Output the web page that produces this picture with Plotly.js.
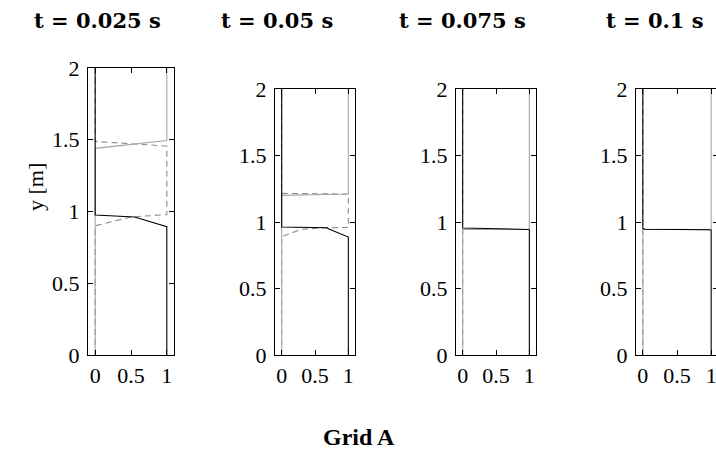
<!DOCTYPE html>
<html>
<head>
<meta charset="utf-8">
<script src="https://cdn.plot.ly/plotly-3.0.1.min.js"></script>
<style>
  html, body { margin: 0; padding: 0; overflow: hidden; background: #fff; }
  #chart { width: 720px; height: 459px; }
</style>
</head>
<body>
<div id="chart"></div>
<script>
// Volume-fraction profiles (x = fraction, y = height in m) at four instants.
const times = ['0.025', '0.05', '0.075', '0.1'];

// t = 0.025 s
const heavyX1 = [1, 1, 0.55, 0, 0];
const heavyY1 = [0, 0.894, 0.962, 0.975, 2];
const midX1 = [0, 0, 0.5, 1, 1, 0, 0];
const midY1 = [0, 0.90, 0.962, 0.978, 1.456, 1.488, 2];
const lightX1 = [0, 0, 1, 1];
const lightY1 = [0, 1.44, 1.495, 2];

// t = 0.05 s
const heavyX2 = [1, 1, 0.71, 0.68, 0, 0];
const heavyY2 = [0, 0.887, 0.948, 0.957, 0.962, 2];
const midX2 = [0, 0, 0.3, 0.6, 1, 1, 0, 0];
const midY2 = [0, 0.89, 0.945, 0.955, 0.96, 1.21, 1.215, 2];
const lightX2 = [0, 0, 1, 1];
const lightY2 = [0, 1.20, 1.21, 2];

// t = 0.075 s
const heavyX3 = [1, 1, 0.97, 0.03, 0, 0];
const heavyY3 = [0, 0.942, 0.944, 0.950, 0.955, 2];
const midX3 = [0, 0];
const midY3 = [0, 2];
const lightX3 = [0, 0, 0.03, 0.97, 1, 1];
const lightY3 = [0, 0.940, 0.946, 0.944, 0.950, 2];

// t = 0.1 s
const heavyX4 = [1, 1, 0.97, 0.03, 0, 0];
const heavyY4 = [0, 0.940, 0.942, 0.946, 0.952, 2];
const midX4 = [0, 0];
const midY4 = [0, 2];
const lightX4 = [0, 0, 0.03, 0.97, 1, 1];
const lightY4 = [0, 0.940, 0.945, 0.943, 0.950, 2];

const xTicks = [0, 0.5, 1];
const xTickText = ['0', '0.5', '1'];
const yTicks = [0, 0.5, 1, 1.5, 2];
const yTickText = ['0', '0.5', '1', '1.5', '2'];

const profiles = [
  { heavy: [heavyX1, heavyY1], mid: [midX1, midY1], light: [lightX1, lightY1] },
  { heavy: [heavyX2, heavyY2], mid: [midX2, midY2], light: [lightX2, lightY2] },
  { heavy: [heavyX3, heavyY3], mid: [midX3, midY3], light: [lightX3, lightY3] },
  { heavy: [heavyX4, heavyY4], mid: [midX4, midY4], light: [lightX4, lightY4] }
];

const W = 720, H = 459;
// panel pixel boxes: [left, right, top, bottom]
const boxes = [
  [88, 174, 68, 355],
  [275, 355, 89, 355],
  [456, 536, 89, 355],
  [636, 718, 89, 355]
];
const titleCenters = [97, 277, 462, 655];

const serif = 'Liberation Serif, Times New Roman, serif';
const traces = [];
const layout = {
  width: W, height: H,
  margin: { l: 0, r: 0, t: 0, b: 0 },
  paper_bgcolor: '#fff', plot_bgcolor: '#fff',
  showlegend: false,
  annotations: []
};

profiles.forEach((p, i) => {
  const n = i + 1;
  const xa = 'x' + (n === 1 ? '' : n), ya = 'y' + (n === 1 ? '' : n);
  traces.push({ x: p.mid[0], y: p.mid[1], xaxis: xa, yaxis: ya, mode: 'lines',
    line: { color: '#8c8c8c', width: 1.1, dash: '6px,4px' }, hoverinfo: 'skip' });
  traces.push({ x: p.light[0], y: p.light[1], xaxis: xa, yaxis: ya, mode: 'lines',
    line: { color: '#a6a6a6', width: 1.1 }, hoverinfo: 'skip' });
  traces.push({ x: p.heavy[0], y: p.heavy[1], xaxis: xa, yaxis: ya, mode: 'lines',
    line: { color: '#000', width: 1.1 }, hoverinfo: 'skip' });

  const b = boxes[i];
  const common = {
    showline: true, linecolor: '#000', linewidth: 1, mirror: 'ticks',
    ticks: 'inside', ticklen: 5, tickcolor: '#000', tickwidth: 1,
    showgrid: false, zeroline: false, fixedrange: true,
    tickfont: { family: serif, size: 22, color: '#000' }
  };
  layout['xaxis' + (n === 1 ? '' : n)] = Object.assign({}, common, {
    domain: [b[0] / W, b[1] / W], range: [-0.1, 1.1],
    tickvals: xTicks, ticktext: xTickText, anchor: ya, ticklabelstandoff: 1
  });
  layout['yaxis' + (n === 1 ? '' : n)] = Object.assign({}, common, {
    domain: [(H - b[3]) / H, (H - b[2]) / H], range: [0, 2],
    tickvals: yTicks, ticktext: yTickText, anchor: xa, ticklabelstandoff: 3
  });

  layout.annotations.push({
    xref: 'paper', yref: 'paper', x: titleCenters[i] / W, y: (H - 20) / H,
    xanchor: 'center', yanchor: 'middle', showarrow: false,
    text: '<b>t = ' + times[i] + ' s</b>',
    font: { family: 'DejaVu Serif, serif', size: 21, color: '#000' }
  });
});

layout.annotations.push({
  xref: 'paper', yref: 'paper', x: 35 / W, y: (H - 187) / H,
  xanchor: 'center', yanchor: 'middle', showarrow: false, textangle: -90,
  text: 'y [m]', font: { family: serif, size: 22, color: '#000' }
});
layout.annotations.push({
  xref: 'paper', yref: 'paper', x: 359 / W, y: (H - 437) / H,
  xanchor: 'center', yanchor: 'middle', showarrow: false,
  text: '<b>Grid A</b>', font: { family: serif, size: 24, color: '#000' }
});

Plotly.newPlot('chart', traces, layout, { staticPlot: true, displayModeBar: false });
</script>
</body>
</html>
